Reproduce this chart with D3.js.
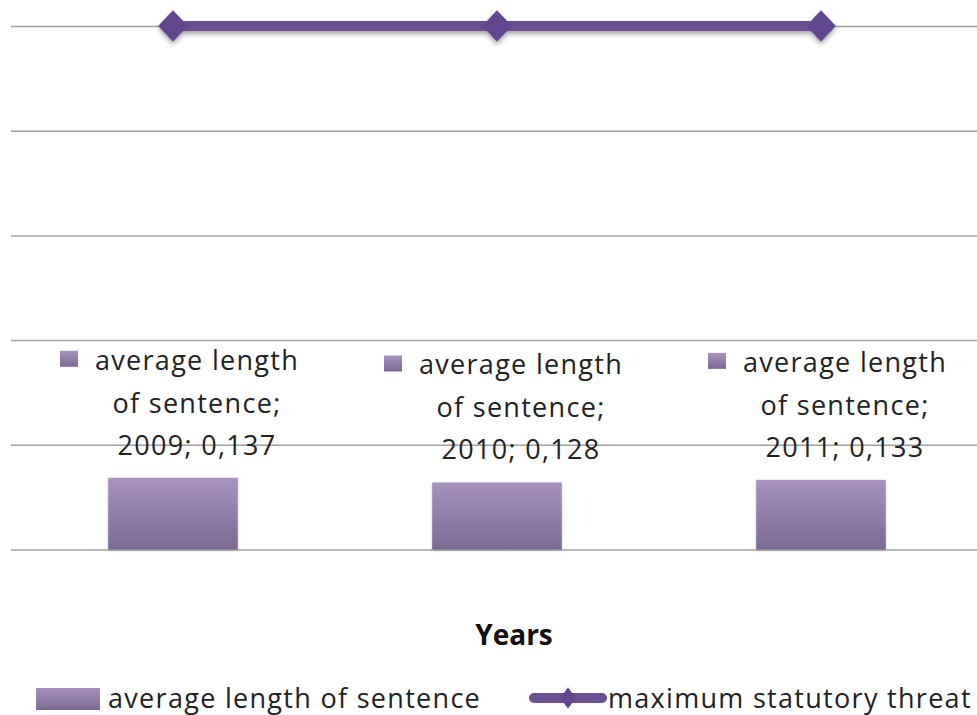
<!DOCTYPE html>
<html>
<head>
<meta charset="utf-8">
<script src="https://cdn.jsdelivr.net/npm/d3@7"></script>
<style>
  html, body { margin: 0; padding: 0; background: #fff; }
  svg { display: block; font-family: "Open Sans", Lato, sans-serif; }
</style>
</head>
<body>
<svg id="chart" width="977" height="715"></svg>
<script>
// Chart data
const years = ["2009", "2010", "2011"];
const avgSentence = [0.137, 0.128, 0.133];
const maxThreat = [1, 1, 1];
const yTicks = [0, 0.2, 0.4, 0.6, 0.8, 1.0];
const seriesNames = ["average length of sentence", "maximum statutory threat"];
const axisTitle = "Years";

const svg = d3.select("#chart");
const defs = svg.append("defs");

const barGrad = defs.append("linearGradient")
  .attr("id", "barGrad").attr("x1", 0).attr("y1", 0).attr("x2", 0).attr("y2", 1);
barGrad.append("stop").attr("offset", "0%").attr("stop-color", "#a793be");
barGrad.append("stop").attr("offset", "100%").attr("stop-color", "#7b6a94");

const shadow = defs.append("filter").attr("id", "shadow")
  .attr("x", "-50%").attr("y", "-50%").attr("width", "200%").attr("height", "200%");
shadow.append("feDropShadow").attr("dx", 0).attr("dy", 3).attr("stdDeviation", 2.5)
  .attr("flood-color", "#000").attr("flood-opacity", 0.35);

const barShadow = defs.append("filter").attr("id", "barShadow")
  .attr("x", "-20%").attr("y", "-20%").attr("width", "140%").attr("height", "140%");
barShadow.append("feDropShadow").attr("dx", 0).attr("dy", 1).attr("stdDeviation", 1.5)
  .attr("flood-color", "#000").attr("flood-opacity", 0.2);

const x = d3.scaleBand().domain(years).range([11, 983]).paddingInner(0).paddingOuter(0);
const y = d3.scaleLinear().domain([0, 1]).range([549.5, 26]);

// Horizontal gridlines
const grid = svg.append("g").attr("transform", "translate(11,0)")
  .call(d3.axisLeft(y).tickValues(yTicks).tickSize(-980).tickFormat(""));
grid.select(".domain").remove();
grid.selectAll(".tick line").attr("stroke", "#a0a0a0").attr("stroke-width", 1.5);

// Bars
const barW = x.bandwidth() * 0.4;
const cx = d => x(d) + x.bandwidth() / 2;
svg.append("g").selectAll("rect").data(years).join("rect")
  .attr("x", d => cx(d) - barW / 2)
  .attr("y", (d, i) => y(avgSentence[i]))
  .attr("width", barW)
  .attr("height", (d, i) => y(0) - y(avgSentence[i]))
  .attr("fill", "url(#barGrad)")
  .attr("filter", "url(#barShadow)");

// Line series with diamond markers
const line = d3.line().x((d, i) => cx(years[i])).y(d => y(d));
const lineG = svg.append("g").attr("filter", "url(#shadow)");
lineG.append("path").datum(maxThreat)
  .attr("d", line).attr("fill", "none")
  .attr("stroke", "#6a5090").attr("stroke-width", 10);
const diamond = d3.symbol().type(d3.symbolDiamond2).size(560);
lineG.selectAll("path.marker").data(maxThreat).join("path")
  .attr("class", "marker")
  .attr("transform", (d, i) => `translate(${cx(years[i])},${y(d)}) scale(1,1.06)`)
  .attr("d", diamond)
  .attr("fill", "#614690");

// Data labels above bars
const fmt = v => String(v).replace(".", ",");
const labels = svg.append("g").selectAll("g").data(years).join("g")
  .attr("transform", (d, i) => `translate(${cx(d)},${y(avgSentence[i])})`);
labels.append("rect")
  .attr("x", -113).attr("y", -127).attr("width", 18).attr("height", 16)
  .attr("fill", "url(#barGrad)");
const lt = labels.append("text")
  .attr("text-anchor", "middle").attr("font-size", 27)
  .attr("letter-spacing", 1.3).attr("fill", "#222");
lt.append("tspan").attr("x", 24).attr("y", -108).text("average length");
lt.append("tspan").attr("x", 24).attr("y", -65).text("of sentence;");
lt.append("tspan").attr("x", 24).attr("y", -23).text((d, i) => `${d}; ${fmt(avgSentence[i])}`);

// Axis title
svg.append("text").attr("x", 514).attr("y", 645)
  .attr("text-anchor", "middle").attr("font-size", 28).attr("font-weight", "bold")
  .attr("fill", "#111").text(axisTitle);

// Legend
const leg = svg.append("g");
leg.append("rect").attr("x", 36).attr("y", 688).attr("width", 64).attr("height", 22)
  .attr("fill", "url(#barGrad)");
leg.append("text").attr("x", 108).attr("y", 708).attr("font-size", 27)
  .attr("letter-spacing", 1.3).attr("fill", "#222")
  .text(seriesNames[0]);
leg.append("line").attr("x1", 534).attr("x2", 602).attr("y1", 698).attr("y2", 698)
  .attr("stroke", "#6a5090").attr("stroke-width", 10).attr("stroke-linecap", "round");
leg.append("path").attr("transform", "translate(568,698) scale(0.7,1)")
  .attr("d", d3.symbol().type(d3.symbolDiamond2).size(300)).attr("fill", "#614690");
leg.append("text").attr("x", 608).attr("y", 708).attr("font-size", 27)
  .attr("letter-spacing", 1.3).attr("fill", "#222")
  .text(seriesNames[1]);
</script>
</body>
</html>
